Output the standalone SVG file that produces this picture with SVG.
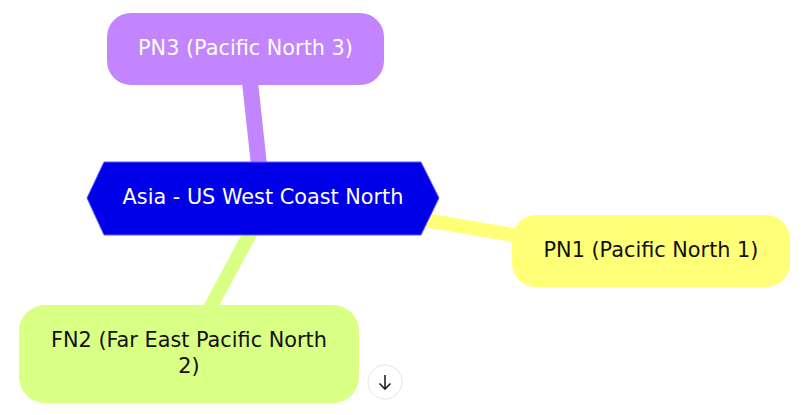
<svg xmlns="http://www.w3.org/2000/svg" width="806" height="415" viewBox="0 0 806 415">
<style>
text{font-family:"DejaVu Sans","Noto Sans",sans-serif;font-size:20.8px;text-anchor:middle;dominant-baseline:central}
.edge{fill:none;stroke-linecap:butt}
</style>
<rect width="806" height="415" fill="#ffffff"/>
<g id="connectors">
<line class="edge" x1="250" y1="82" x2="259" y2="165" stroke="#c285fd" stroke-width="16"/>
<line class="edge" x1="425" y1="220" x2="520" y2="236" stroke="#ffff78" stroke-width="14"/>
<line class="edge" x1="252" y1="230" x2="210" y2="308" stroke="#d9ff85" stroke-width="14"/>
</g>
<g id="pn3">
<rect x="107" y="13" width="277" height="72" rx="24" fill="#c285fd"/>
<text x="245.5" y="48" fill="#ffffff">PN3 (Pacific North 3)</text>
</g>
<g id="pn1">
<rect x="512" y="215" width="278" height="72" rx="24" fill="#ffff78"/>
<text x="651" y="250" fill="#111111">PN1 (Pacific North 1)</text>
</g>
<g id="fn2">
<rect x="19" y="305" width="340" height="98" rx="26" fill="#d9ff85"/>
<text x="189" y="340" fill="#111111">FN2 (Far East Pacific North</text>
<text x="189" y="366" fill="#111111">2)</text>
</g>
<g id="root">
<polygon points="87,198 104,162 421,162 439,198 421,235 104,235" fill="#0000e8" stroke="#5a5aff" stroke-width="1"/>
<text x="263" y="197" fill="#ffffff">Asia - US West Coast North</text>
</g>
<g id="scroll-button">
<circle cx="385" cy="382" r="17" fill="#ffffff" stroke="#e4e4e4" stroke-width="1"/>
<path d="M385 375 V389 M379.5 383.5 L385 389 L390.5 383.5" fill="none" stroke="#222222" stroke-width="1.6"/>
</g>
</svg>
